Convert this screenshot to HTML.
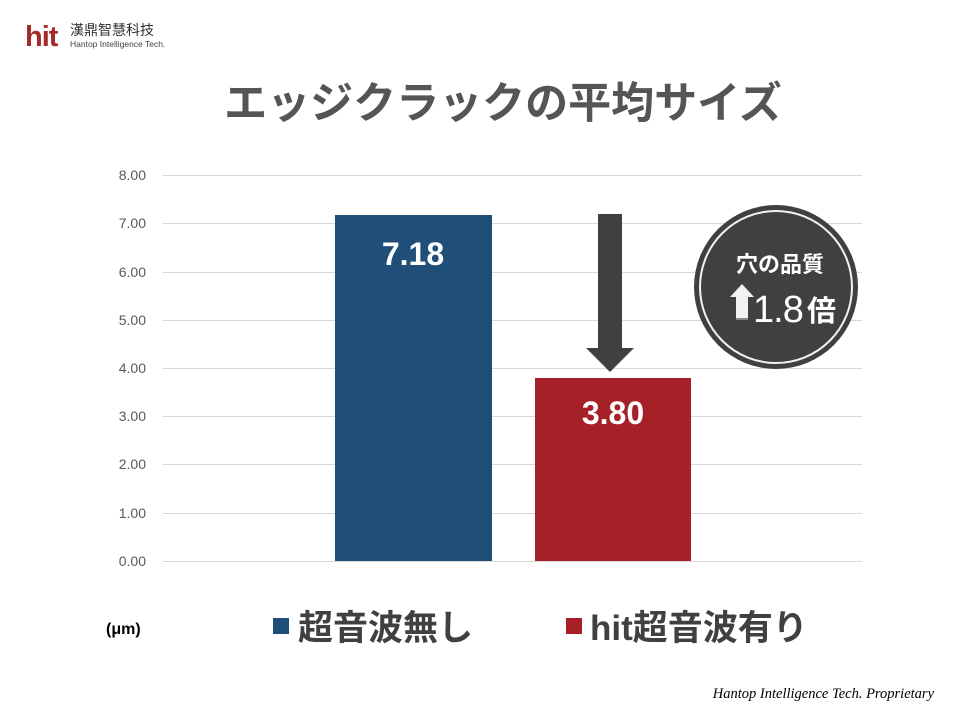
<!DOCTYPE html>
<html><head><meta charset="utf-8"><style>
body{margin:0;width:960px;height:720px;background:#fff;overflow:hidden;font-family:"Liberation Sans","Noto Sans CJK JP",sans-serif}
</style></head><body>
<svg width="960" height="720" viewBox="0 0 960 720" xmlns="http://www.w3.org/2000/svg" font-family="Liberation Sans, Noto Sans CJK JP, sans-serif">
<text x="25" y="46" font-size="29" font-weight="bold" fill="#a52a2a" font-family="Liberation Sans, sans-serif" letter-spacing="-1">hit</text>
<text x="70" y="35" font-size="14" fill="#333" font-family="Noto Sans CJK TC, sans-serif">漢鼎智慧科技</text>
<text x="70" y="47" font-size="8.5" fill="#444">Hantop Intelligence Tech.</text>
<text x="503" y="118" font-size="43" font-weight="bold" fill="#555" text-anchor="middle" font-family="Noto Sans CJK JP, sans-serif">エッジクラックの平均サイズ</text>
<g stroke="#d9d9d9" stroke-width="1">
<line x1="163" x2="862" y1="175.5" y2="175.5"/><line x1="163" x2="862" y1="223.5" y2="223.5"/>
<line x1="163" x2="862" y1="272.5" y2="272.5"/><line x1="163" x2="862" y1="320.5" y2="320.5"/>
<line x1="163" x2="862" y1="368.5" y2="368.5"/><line x1="163" x2="862" y1="416.5" y2="416.5"/>
<line x1="163" x2="862" y1="464.5" y2="464.5"/><line x1="163" x2="862" y1="513.5" y2="513.5"/>
<line x1="163" x2="862" y1="561.5" y2="561.5"/></g>
<g font-size="14" fill="#595959" text-anchor="end">
<text x="146" y="180">8.00</text><text x="146" y="228">7.00</text><text x="146" y="277">6.00</text>
<text x="146" y="325">5.00</text><text x="146" y="373">4.00</text><text x="146" y="421">3.00</text>
<text x="146" y="469">2.00</text><text x="146" y="518">1.00</text><text x="146" y="566">0.00</text></g>
<rect x="335" y="215" width="157" height="346" fill="#1f4e79"/>
<rect x="535" y="378" width="156" height="183" fill="#a52027"/>
<text x="413" y="265" font-size="32" font-weight="bold" fill="#fff" text-anchor="middle">7.18</text>
<text x="613" y="424" font-size="32" font-weight="bold" fill="#fff" text-anchor="middle">3.80</text>
<polygon points="598,214 622,214 622,348 634,348 610,372 586,348 598,348" fill="#404040"/>
<circle cx="776" cy="287" r="82" fill="#404040"/>
<circle cx="776" cy="287" r="76" fill="none" stroke="#f2f2f2" stroke-width="2"/>
<text x="780" y="272" font-size="22" font-weight="bold" fill="#fff" text-anchor="middle" font-family="Noto Sans CJK JP, sans-serif">穴の品質</text>
<polygon points="742,284 754,297 748,297 748,320 736,320 736,297 730,297" fill="#f2f2f2"/>
<rect x="736" y="318" width="12" height="2" fill="#888"/>
<text x="753" y="322" font-size="38" fill="#fff" font-family="Liberation Sans, sans-serif" letter-spacing="-1">1.8</text>
<text x="807" y="321" font-size="29" font-weight="bold" fill="#fff" font-family="Noto Sans CJK JP, sans-serif">倍</text>
<text x="106" y="634" font-size="16" font-weight="bold" fill="#000">(μm)</text>
<rect x="273" y="618" width="16" height="16" fill="#1f4e79"/>
<text x="298" y="640" font-size="35" font-weight="bold" fill="#404040" font-family="Noto Sans CJK JP, sans-serif">超音波無し</text>
<rect x="566" y="618" width="16" height="16" fill="#a52027"/>
<text x="590" y="640" font-size="35" font-weight="bold" fill="#404040" font-family="Liberation Sans, Noto Sans CJK JP, sans-serif">hit超音波有り</text>
<text x="934" y="698" font-size="14.5" font-style="italic" fill="#000" text-anchor="end" font-family="Liberation Serif, serif">Hantop Intelligence Tech. Proprietary</text>
</svg>
</body></html>
